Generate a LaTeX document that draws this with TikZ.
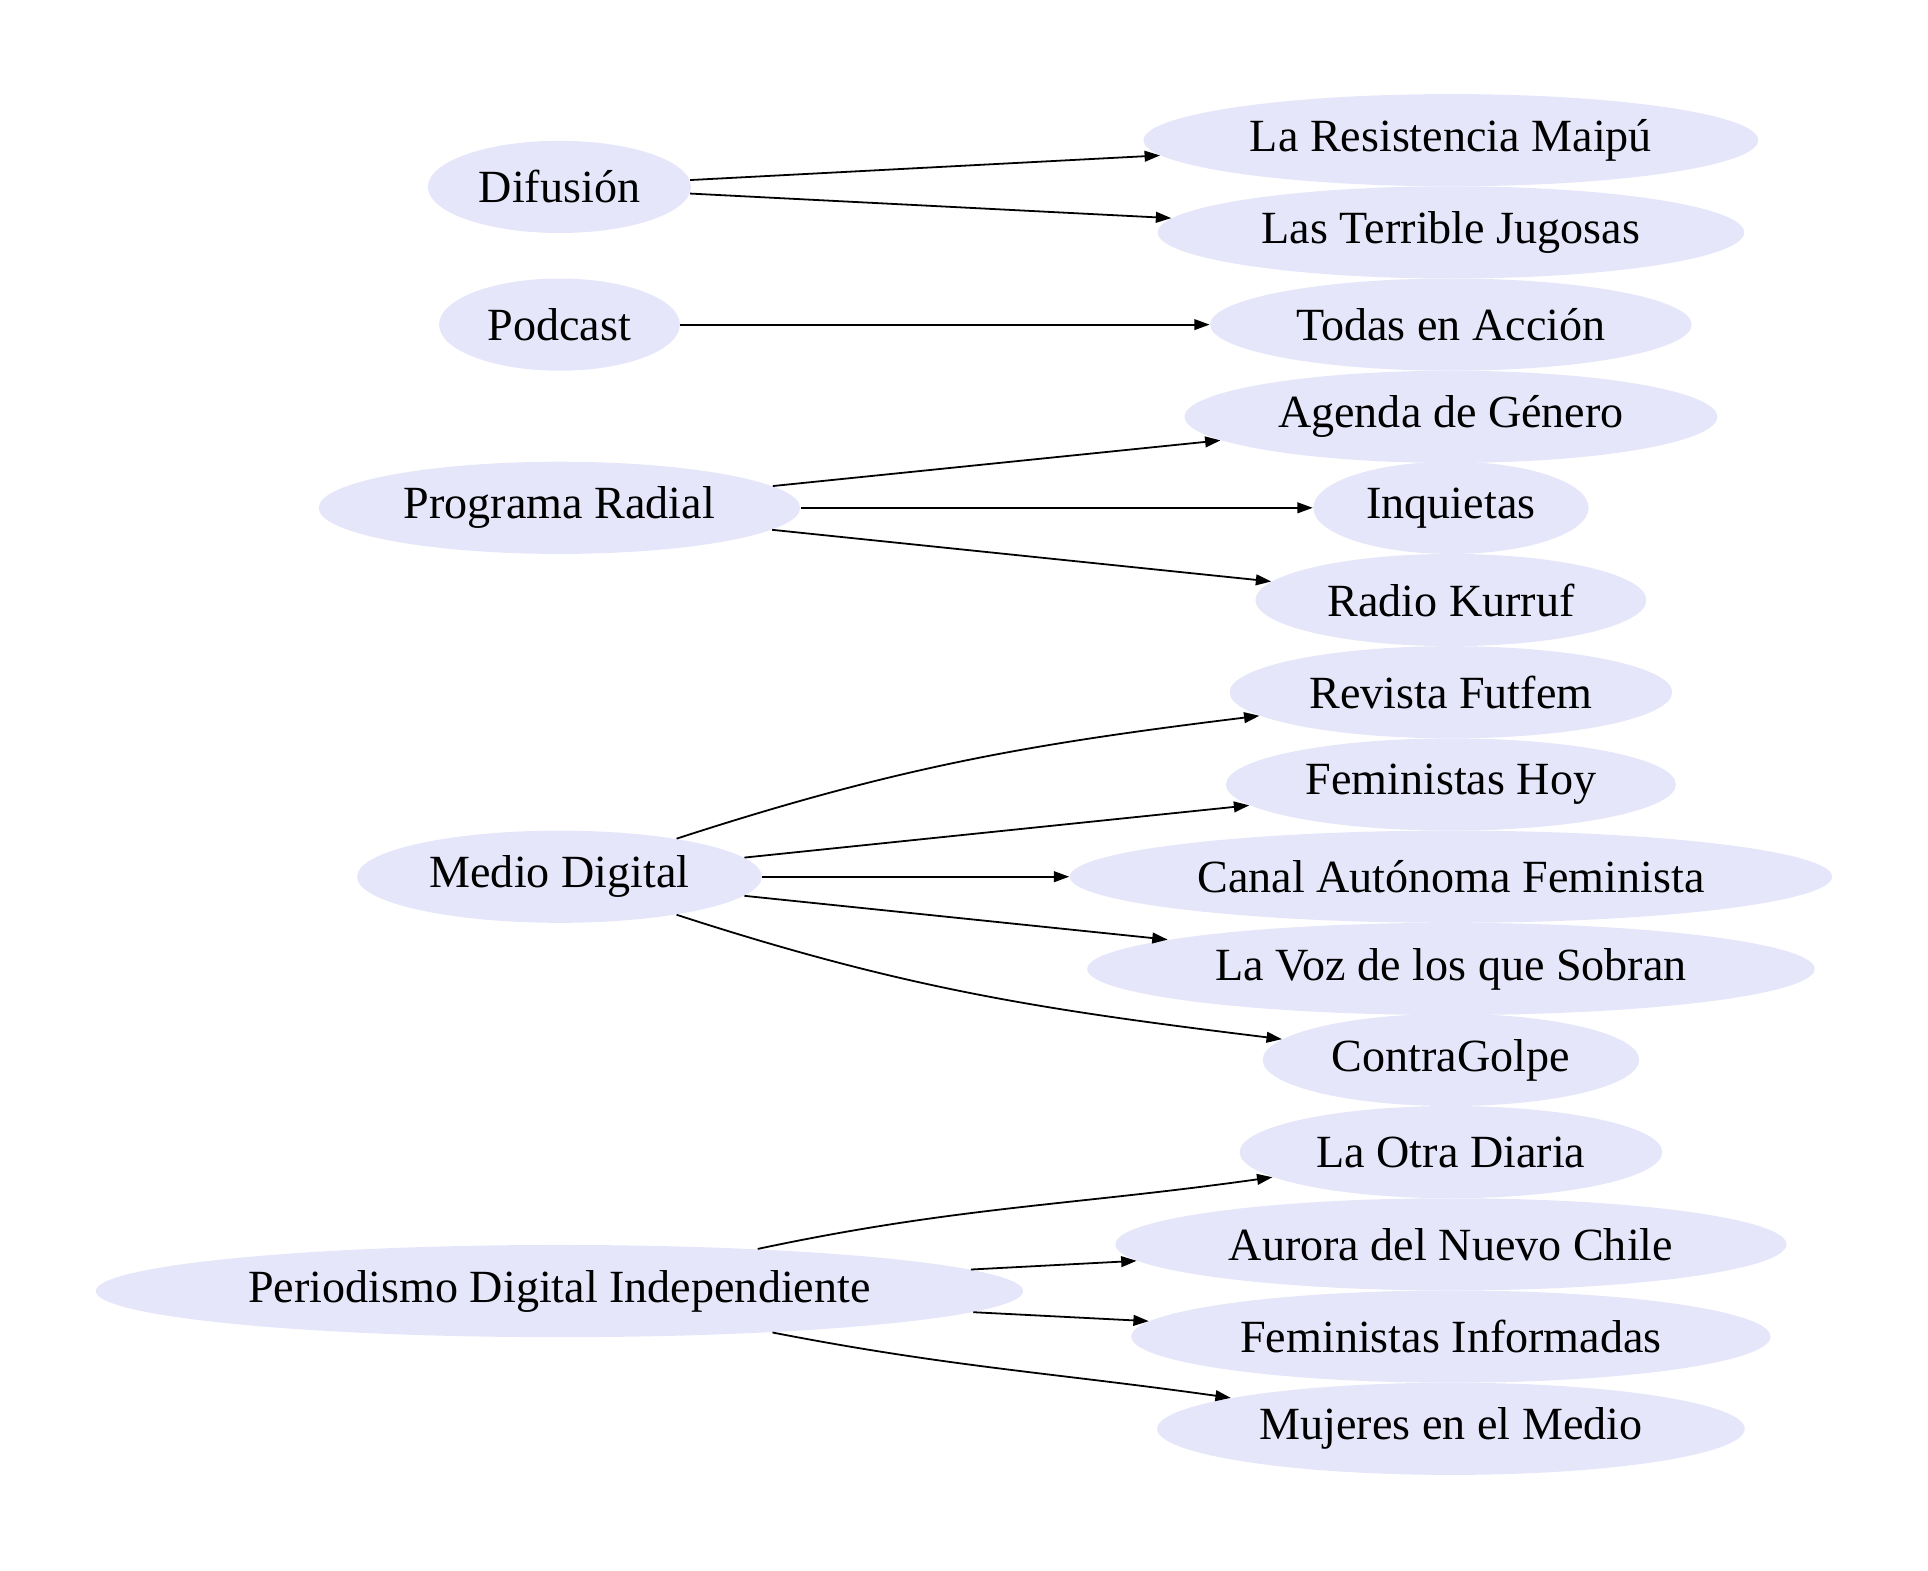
\documentclass[tikz,border=0pt]{standalone}
\usepackage{fontspec}
\setmainfont{Liberation Serif}
\usetikzlibrary{shapes.geometric,arrows.meta}
\definecolor{lavender}{HTML}{E6E6FA}

\begin{document}
\begin{tikzpicture}[x=0.48pt,y=0.48pt]
    \tikzstyle{medium}=[ellipse,fill=lavender,inner sep=0pt,minimum height=36pt,font=\fontsize{18}{21}\selectfont]
    \tikzstyle{link}=[draw=black,line width=0.7pt,-{Triangle[length=6pt,width=4.2pt]}]
    \useasboundingbox (0,0) rectangle (1568,-1277.6);
    % kinds of media (left)
    \node[medium,minimum width=102.7pt] (difusion) at (455,-152) {Difusión};
    \node[medium,minimum width=94pt] (podcast) at (455,-264) {Podcast};
    \node[medium,minimum width=188pt] (radial) at (455,-413) {Programa Radial};
    \node[medium,minimum width=158pt] (digital) at (455,-713) {Medio Digital};
    \node[medium,minimum width=362pt] (periodismo) at (455,-1050) {Periodismo Digital Independiente};
    % outlets (right)
    \node[medium,minimum width=240pt] (resistencia) at (1180,-114) {La Resistencia Maipú};
    \node[medium,minimum width=229pt] (jugosas) at (1180,-189) {Las Terrible Jugosas};
    \node[medium,minimum width=188pt] (todas) at (1180,-264) {Todas en Acción};
    \node[medium,minimum width=208pt] (agenda) at (1180,-339) {Agenda de Género};
    \node[medium,minimum width=107.5pt] (inquietas) at (1180,-413) {Inquietas};
    \node[medium,minimum width=152.6pt] (kurruf) at (1180,-488) {Radio Kurruf};
    \node[medium,minimum width=172.8pt] (futfem) at (1180,-563) {Revista Futfem};
    \node[medium,minimum width=175.7pt] (hoy) at (1180,-638) {Feministas Hoy};
    \node[medium,minimum width=297.6pt] (canal) at (1180,-713) {Canal Autónoma Feminista};
    \node[medium,minimum width=284pt] (voz) at (1180,-788) {La Voz de los que Sobran};
    \node[medium,minimum width=147pt] (contragolpe) at (1180,-862) {ContraGolpe};
    \node[medium,minimum width=165pt] (otra) at (1180,-937) {La Otra Diaria};
    \node[medium,minimum width=262pt] (aurora) at (1180,-1012) {Aurora del Nuevo Chile};
    \node[medium,minimum width=249.6pt] (informadas) at (1180,-1087) {Feministas Informadas};
    \node[medium,minimum width=229.4pt] (mujeres) at (1180,-1162) {Mujeres en el Medio};
    % edges
    \draw[link] (difusion) -- (resistencia);
    \draw[link] (difusion) -- (jugosas);
    \draw[link] (podcast) -- (todas);
    \draw[link] (radial) -- (agenda);
    \draw[link] (radial) -- (inquietas);
    \draw[link] (radial) -- (kurruf);
    \draw[link] (digital) to[out=18,in=187] (futfem);
    \draw[link] (digital) -- (hoy);
    \draw[link] (digital) -- (canal);
    \draw[link] (digital) -- (voz);
    \draw[link] (digital) to[out=-18,in=173] (contragolpe);
    \draw[link] (periodismo) to[out=12,in=188] (otra);
    \draw[link] (periodismo) -- (aurora);
    \draw[link] (periodismo) -- (informadas);
    \draw[link] (periodismo) to[out=-11,in=172] (mujeres);
\end{tikzpicture}
\end{document}
